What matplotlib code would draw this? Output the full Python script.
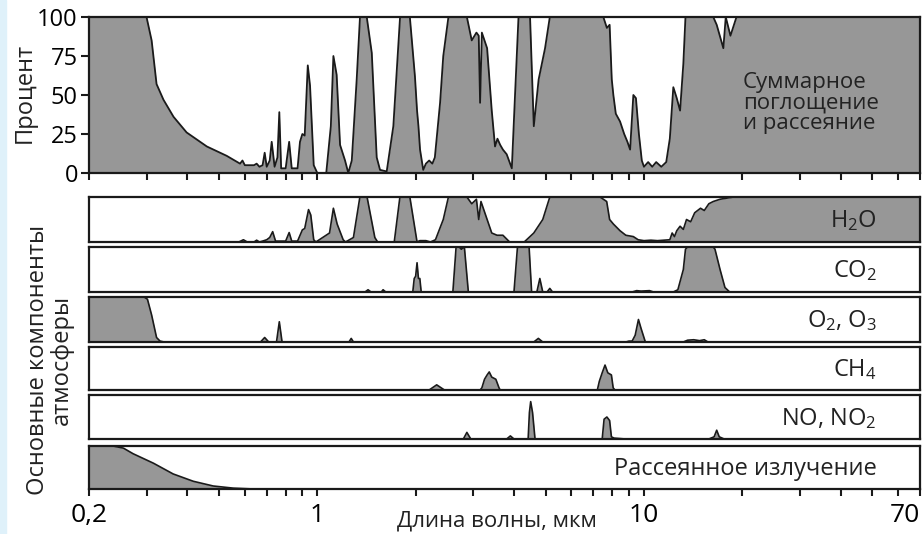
import numpy as np
import matplotlib
matplotlib.use("Agg")
import matplotlib.pyplot as plt
from matplotlib.patches import Rectangle
from matplotlib.ticker import FixedLocator, NullFormatter, FixedFormatter

plt.rcParams['font.family'] = ['Open Sans', 'DejaVu Sans']
plt.rcParams['mathtext.fontset'] = 'custom'
plt.rcParams['mathtext.rm'] = 'Open Sans'
plt.rcParams['mathtext.it'] = 'Open Sans:italic'

# суммарное поглощение и рассеяние (мкм, %)
total_wl = [0.2, 0.30, 0.311, 0.322, 0.338, 0.363, 0.398, 0.459, 0.528, 0.58, 0.59, 0.60,
            0.64, 0.652, 0.665, 0.68, 0.69, 0.70, 0.715, 0.725, 0.74, 0.755, 0.765, 0.775,
            0.80, 0.82, 0.835, 0.87, 0.885, 0.90, 0.915, 0.935, 0.95, 0.975, 1.0, 1.065,
            1.1, 1.12, 1.146, 1.174, 1.216, 1.244, 1.275, 1.32, 1.351, 1.417, 1.468, 1.52,
            1.556, 1.631, 1.709, 1.792, 1.92, 1.99, 2.02, 2.04, 2.063, 2.11, 2.15, 2.2,
            2.25, 2.29, 2.376, 2.43, 2.52, 2.87, 2.97, 3.07, 3.12, 3.15, 3.19, 3.31, 3.42,
            3.5, 3.56, 3.63, 3.7, 3.8, 3.94, 4.03, 4.13, 4.48, 4.6, 4.76, 4.98, 5.15,
            7.51, 7.7, 7.85, 7.97, 8.06, 8.2, 8.45, 8.7, 8.9, 9.07, 9.28, 9.45, 9.65, 9.85,
            10.0, 10.3, 10.6, 10.9, 11.3, 11.7, 12.0, 12.3, 12.6, 12.9, 13.2, 13.4, 16.3,
            16.7, 17.5, 17.8, 18.4, 19.2, 70]
total_pct = [100, 100, 85, 57, 47, 36, 26, 17, 11, 6, 8, 5,
             5, 6, 4, 5, 13, 4, 8, 20, 4, 10, 39, 3,
             3, 20, 3, 3, 20, 25, 24, 69, 56, 5, 0, 0,
             30, 75, 63, 18, 8, 0, 8, 60, 100, 100, 77, 10,
             2, 1, 30, 100, 100, 62, 40, 30, 15, 2, 6, 8,
             6, 10, 45, 75, 100, 100, 85, 90, 88, 45, 90, 80, 40,
             17, 22, 18, 15, 12, 3, 50, 100, 100, 30, 60, 80, 100,
             100, 93, 95, 60, 50, 38, 33, 25, 20, 15, 50, 48, 25, 8,
             4, 7, 4, 7, 4, 7, 22, 55, 48, 40, 70, 100, 100,
             95, 80, 100, 88, 100, 100]

h2o_wl = [0.2, 0.575, 0.594, 0.61, 0.64, 0.652, 0.665, 0.68, 0.70, 0.715, 0.73, 0.745,
          0.80, 0.82, 0.835, 0.87, 0.90, 0.915, 0.94, 0.955, 0.975, 0.99, 1.09, 1.12, 1.15,
          1.2, 1.22, 1.29, 1.35, 1.42, 1.5, 1.53, 1.72, 1.79, 1.92, 2.02, 2.06, 2.15, 2.22,
          2.3, 2.43, 2.52, 2.87, 2.97, 3.07, 3.12, 3.17, 3.42, 3.55, 3.7, 3.88, 4.3, 4.6,
          4.9, 5.15, 7.34, 7.69, 7.85, 8.06, 8.45, 8.8, 9.28, 9.6, 10.0, 10.5, 11.0, 11.5,
          12.0, 12.2, 12.4, 12.6, 12.9, 13.2, 13.5, 13.9, 14.3, 14.9, 15.3, 15.8, 16.3,
          17.1, 18.8, 70]
h2o_pct = [0, 0, 5, 0, 0, 4, 0, 2, 5, 10, 23, 2,
           2, 21, 2, 2, 27, 30, 72, 60, 5, 0, 20, 75, 40,
           5, 0, 10, 100, 100, 10, 0, 0, 100, 100, 0, 3, 3, 0,
           5, 50, 100, 100, 85, 95, 50, 90, 20, 15, 15, 0, 0, 20,
           50, 100, 100, 90, 50, 40, 25, 15, 12, 5, 3, 4, 3, 4,
           5, 20, 12, 25, 35, 28, 50, 45, 65, 75, 70, 85, 90,
           95, 100, 100]

co2_wl = [0.2, 1.40, 1.43, 1.46, 1.57, 1.59, 1.62, 1.96, 1.98, 2.0, 2.02, 2.04, 2.06,
          2.08, 2.6, 2.66, 2.72, 2.76, 2.82, 2.9, 4.0, 4.1, 4.45, 4.53, 4.7, 4.8, 4.9,
          5.05, 5.15, 5.25, 9.2, 9.5, 9.8, 10.4, 10.7, 12.3, 12.7, 13.2, 13.4, 13.6,
          16.3, 16.5, 17.1, 17.7, 18.3, 70]
co2_pct = [0, 0, 5, 0, 0, 5, 0, 0, 30, 35, 65, 30, 30,
           0, 0, 100, 100, 95, 100, 0, 0, 100, 100, 0, 0, 30, 0,
           0, 8, 0, 0, 3, 2, 3, 0, 0, 5, 50, 95, 100,
           100, 95, 50, 10, 0, 0]

o2o3_wl = [0.2, 0.295, 0.302, 0.311, 0.322, 0.33, 0.34, 0.67, 0.69, 0.71, 0.75, 0.765,
           0.78, 1.25, 1.27, 1.29, 4.6, 4.75, 4.9, 8.8, 9.0, 9.2, 9.4, 9.62, 9.8, 10.1,
           13.2, 13.6, 14.2, 14.8, 15.3, 15.7, 70]
o2o3_pct = [100, 100, 95, 60, 10, 2, 0, 0, 10, 0, 0, 45,
            0, 0, 8, 0, 0, 8, 0, 0, 2, 2, 15, 50, 30, 0,
            0, 4, 5, 3, 5, 0, 0]

ch4_wl = [0.2, 2.2, 2.32, 2.45, 3.15, 3.19, 3.25, 3.31, 3.36, 3.42, 3.52, 3.6, 3.63, 7.2,
          7.3, 7.45, 7.6, 7.75, 7.95, 8.05, 8.15, 70]
ch4_pct = [0, 0, 12, 0, 0, 5, 25, 35, 42, 30, 25, 5, 0, 0,
           20, 40, 58, 40, 35, 5, 0, 0]

no_wl = [0.2, 2.8, 2.87, 2.95, 3.8, 3.9, 4.0, 4.42, 4.46, 4.5, 4.56, 4.64, 7.45, 7.55,
         7.7, 7.85, 7.95, 8.1, 8.8, 15.8, 16.4, 16.7, 17.0, 17.6, 70]
no_pct = [0, 0, 15, 0, 0, 7, 0, 0, 60, 85, 60, 0, 0, 45,
          50, 42, 5, 2, 0, 0, 5, 20, 5, 0, 0]

scat_wl = [0.2, 0.237, 0.255, 0.273, 0.315, 0.362, 0.417, 0.48, 0.553, 0.64, 70]
scat_pct = [100, 100, 95, 82, 60, 35, 18, 7, 2, 0, 0]

strips = [(h2o_wl, h2o_pct, 'H$_\\mathrm{2}$O'),
          (co2_wl, co2_pct, 'CO$_\\mathrm{2}$'),
          (o2o3_wl, o2o3_pct, 'O$_\\mathrm{2}$, O$_\\mathrm{3}$'),
          (ch4_wl, ch4_pct, 'CH$_\\mathrm{4}$'),
          (no_wl, no_pct, 'NO, NO$_\\mathrm{2}$'),
          (scat_wl, scat_pct, 'Рассеянное излучение')]
strip_px = [(197, 242), (247, 292), (297, 342), (347, 390), (395, 439), (446, 489)]

W, H = 924, 534
fill_c = '#979797'
edge_c = '#1a1a1a'
minor = [0.3, 0.4, 0.5, 0.6, 0.7, 0.8, 0.9, 2, 3, 4, 5, 6, 7, 8, 9, 20, 30, 40, 50, 60]


def pos(top, bottom):
    return [89 / W, 1 - bottom / H, 831 / W, (bottom - top) / H]


def setup_x(ax, labels):
    ax.set_xscale('log')
    ax.set_xlim(0.2, 70)
    ax.xaxis.set_major_locator(FixedLocator([0.2, 1, 10, 70]))
    ax.xaxis.set_minor_locator(FixedLocator(minor))
    ax.xaxis.set_minor_formatter(NullFormatter())
    if labels:
        ax.xaxis.set_major_formatter(FixedFormatter(['0,2', '1', '10', '70']))
    else:
        ax.xaxis.set_major_formatter(NullFormatter())
    ax.tick_params(axis='x', which='both', direction='out', length=5, width=1.5,
                   color=edge_c, labelsize=19, pad=5)
    for s in ax.spines.values():
        s.set_linewidth(1.6)
        s.set_color(edge_c)


fig = plt.figure(figsize=(W / 100, H / 100), dpi=100)
fig.add_artist(Rectangle((0, 0), 6 / W, 1, transform=fig.transFigure,
                         color='#dff1fa', zorder=-1))

ax0 = fig.add_axes(pos(17, 173))
ax0.fill_between(total_wl, total_pct, color=fill_c, lw=0)
ax0.plot(total_wl, total_pct, color=edge_c, lw=1.3)
ax0.set_ylim(0, 100)
ax0.set_yticks([0, 25, 50, 75, 100])
ax0.tick_params(axis='y', direction='out', length=6, width=1.5, color=edge_c,
                labelsize=17, pad=2)
setup_x(ax0, False)
ax0.text(0.787, 0.45, 'Суммарное\nпоглощение\nи рассеяние', transform=ax0.transAxes,
         ha='left', va='center', fontsize=16, linespacing=0.95, color='#222222')

for i, ((wl, pct, name), (t, b)) in enumerate(zip(strips, strip_px)):
    ax = fig.add_axes(pos(t, b))
    ax.fill_between(wl, pct, color=fill_c, lw=0)
    ax.plot(wl, pct, color=edge_c, lw=1.2)
    ax.set_ylim(0, 100)
    ax.set_yticks([])
    last = i == len(strips) - 1
    setup_x(ax, last)
    if last:
        ax.get_xticklabels()[-1].set_horizontalalignment('right')
    else:
        ax.tick_params(axis='x', which='both', length=0)
    ax.text(0.948, 0.47, name, transform=ax.transAxes, ha='right', va='center',
            fontsize=17, color='#222222')

fig.text(25 / W, 1 - 93 / H, 'Процент', rotation=90, ha='center', va='center',
         fontsize=17, color='#222222')
fig.text(50 / W, 1 - 360 / H, 'Основные компоненты\nатмосферы', rotation=90,
         ha='center', va='center', multialignment='center', linespacing=0.95,
         fontsize=17, color='#222222')
fig.text(497 / W, 1 - 521 / H, 'Длина волны, мкм', ha='center', va='center',
         fontsize=16, color='#222222')

fig.savefig('out.png', dpi=100)
